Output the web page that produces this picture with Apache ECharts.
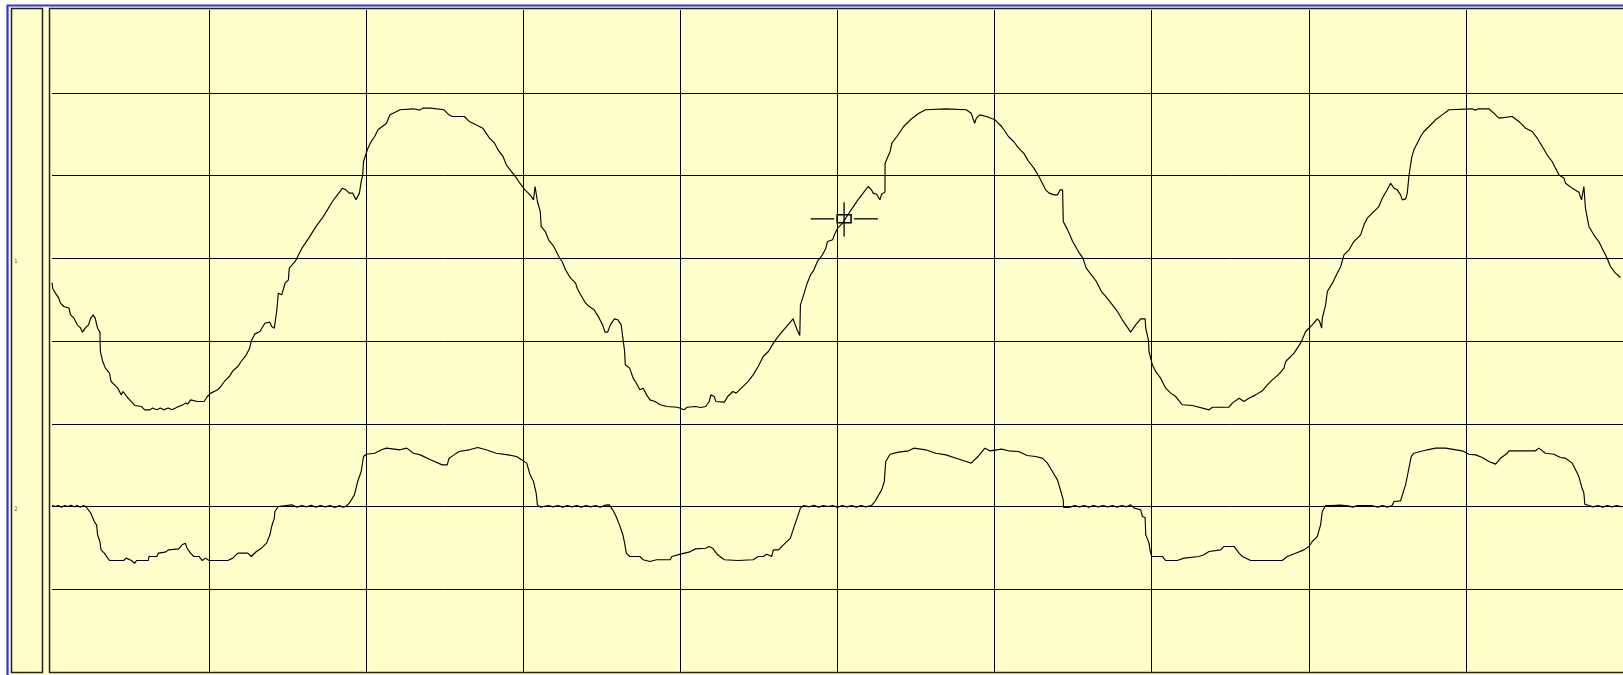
<!DOCTYPE html>
<html><head><meta charset="utf-8">
<script src="https://cdn.jsdelivr.net/npm/echarts@6/dist/echarts.min.js"></script>
<style>html,body{margin:0;padding:0;background:#fff;}#c{width:1623px;height:675px;}</style>
</head><body><div id="c"></div>
<script>
// channel labels and the value each channel is centred on
const channelLabels = ['1', '2'];
const channelCenters = [5, 2];

// trace 1 (x in divisions, y in divisions)
const trace1a = [[0,4.707],[0.004,4.638],[0.022,4.578],[0.043,4.518],[0.054,4.457],[0.075,4.417],[0.108,4.397],[0.118,4.316],[0.140,4.276],[0.161,4.195],[0.183,4.155],[0.194,4.107],[0.211,4.155],[0.232,4.195],[0.247,4.276],[0.262,4.316],[0.275,4.276],[0.290,4.155],[0.305,4.107],[0.308,3.873],[0.323,3.752],[0.340,3.672],[0.366,3.611],[0.376,3.511],[0.398,3.470],[0.419,3.430],[0.441,3.349],[0.452,3.390],[0.484,3.309],[0.527,3.221],[0.570,3.208],[0.590,3.168],[0.600,3.190],[0.624,3.168],[0.640,3.190],[0.667,3.170],[0.690,3.190],[0.710,3.168],[0.740,3.190],[0.763,3.168],[0.806,3.208],[0.830,3.225],[0.849,3.249],[0.865,3.240],[0.882,3.289],[0.925,3.269],[0.968,3.269],[0.989,3.329],[1.011,3.370],[1.054,3.410],[1.075,3.450],[1.097,3.511],[1.129,3.571],[1.151,3.639],[1.183,3.692],[1.204,3.752],[1.237,3.833],[1.258,3.913],[1.269,4.002],[1.290,4.083],[1.323,4.115],[1.355,4.215],[1.387,4.228],[1.398,4.175],[1.415,4.155],[1.430,4.356],[1.441,4.578],[1.462,4.558],[1.484,4.699],[1.505,4.739],[1.510,4.880],[1.548,4.961],[1.570,5.041],[1.591,5.122],[1.613,5.182],[1.634,5.243],[1.667,5.343],[1.688,5.404],[1.720,5.484],[1.753,5.585],[1.785,5.686],[1.817,5.766],[1.849,5.847],[1.871,5.827],[1.892,5.787],[1.914,5.787],[1.935,5.706],[1.957,5.787],[1.968,5.927],[1.978,6.008],[1.983,6.169],[2.011,6.330],[2.032,6.411],[2.054,6.471],[2.075,6.552],[2.129,6.632],[2.151,6.733],[2.172,6.753],[2.215,6.794],[2.301,6.806],[2.340,6.790],[2.360,6.814],[2.409,6.814],[2.495,6.794],[2.527,6.733],[2.548,6.713],[2.624,6.713],[2.656,6.653],[2.699,6.612],[2.742,6.572],[2.763,6.512],[2.785,6.451],[2.817,6.391],[2.839,6.310],[2.871,6.230],[2.892,6.129],[2.925,6.048],[2.957,5.968],[2.978,5.907],[3.011,5.827],[3.043,5.766],[3.065,5.706],[3.075,5.867],[3.086,5.847],[3.090,5.686],[3.108,5.565],[3.114,5.384],[3.140,5.323],[3.161,5.223],[3.194,5.142],[3.226,5.021],[3.247,4.961],[3.269,4.860],[3.301,4.759],[3.333,4.699]];
const trace1b = [[3.343,4.638],[3.365,4.558],[3.397,4.457],[3.419,4.417],[3.451,4.377],[3.483,4.276],[3.505,4.195],[3.520,4.107],[3.537,4.107],[3.554,4.195],[3.580,4.268],[3.602,4.256],[3.623,4.195],[3.634,4.034],[3.645,3.873],[3.649,3.712],[3.677,3.672],[3.699,3.551],[3.720,3.490],[3.742,3.410],[3.763,3.430],[3.785,3.349],[3.806,3.289],[3.839,3.269],[3.871,3.229],[3.914,3.208],[3.978,3.200],[4.000,3.188],[4.022,3.168],[4.043,3.200],[4.097,3.208],[4.129,3.196],[4.161,3.208],[4.183,3.269],[4.194,3.349],[4.215,3.329],[4.226,3.269],[4.280,3.261],[4.301,3.329],[4.334,3.390],[4.355,3.370],[4.388,3.430],[4.431,3.511],[4.463,3.591],[4.495,3.692],[4.527,3.813],[4.560,3.873],[4.592,3.974],[4.614,4.034],[4.657,4.135],[4.689,4.203],[4.717,4.268],[4.743,4.135],[4.760,4.066],[4.764,4.437],[4.786,4.566],[4.807,4.699],[4.829,4.800],[4.850,4.860],[4.872,4.961],[4.904,5.041],[4.926,5.122],[4.936,5.202],[4.969,5.223],[4.980,5.283],[5.001,5.364],[5.033,5.424],[5.066,5.525],[5.087,5.585],[5.130,5.706],[5.163,5.787],[5.195,5.867],[5.216,5.827],[5.227,5.787],[5.249,5.774],[5.270,5.706],[5.281,5.774],[5.302,5.799],[5.303,6.149],[5.335,6.290],[5.346,6.391],[5.378,6.471],[5.421,6.592],[5.464,6.673],[5.518,6.753],[5.561,6.794],[5.690,6.806],[5.819,6.794],[5.851,6.753],[5.873,6.632],[5.884,6.693],[5.905,6.733],[5.948,6.713],[6.002,6.673],[6.045,6.592],[6.088,6.471],[6.121,6.411],[6.153,6.330],[6.185,6.270],[6.217,6.169],[6.250,6.089],[6.282,5.988],[6.304,5.907],[6.325,5.827],[6.347,5.787],[6.379,5.766],[6.400,5.766],[6.418,5.827],[6.433,5.827],[6.437,5.444],[6.465,5.343],[6.497,5.202],[6.540,5.061],[6.562,5.001],[6.583,4.880],[6.616,4.800],[6.648,4.719],[6.680,4.598]];
const trace1c = [[6.707,4.538],[6.750,4.437],[6.782,4.356],[6.813,4.256],[6.835,4.195],[6.866,4.107],[6.898,4.195],[6.930,4.268],[6.958,4.268],[6.962,4.155],[6.979,4.014],[6.983,3.873],[7.004,3.712],[7.025,3.632],[7.057,3.551],[7.089,3.430],[7.121,3.370],[7.153,3.329],[7.195,3.229],[7.259,3.221],[7.365,3.168],[7.386,3.200],[7.492,3.200],[7.513,3.249],[7.556,3.309],[7.587,3.269],[7.619,3.309],[7.662,3.349],[7.704,3.398],[7.736,3.470],[7.768,3.530],[7.810,3.599],[7.842,3.672],[7.853,3.752],[7.906,3.853],[7.948,3.974],[7.980,4.115],[8.022,4.195],[8.054,4.268],[8.069,4.236],[8.082,4.155],[8.086,4.276],[8.107,4.437],[8.118,4.598],[8.150,4.699],[8.181,4.820],[8.203,4.900],[8.224,5.041],[8.256,5.102],[8.287,5.202],[8.330,5.283],[8.351,5.404],[8.372,5.484],[8.404,5.545],[8.446,5.625],[8.468,5.726],[8.499,5.827],[8.521,5.907],[8.542,5.847],[8.563,5.827],[8.584,5.766],[8.595,5.706],[8.616,5.718],[8.627,5.787],[8.637,5.988],[8.654,6.209],[8.669,6.310],[8.690,6.391],[8.712,6.471],[8.733,6.532],[8.765,6.592],[8.807,6.673],[8.849,6.733],[8.892,6.794],[9.040,6.806],[9.060,6.790],[9.080,6.806],[9.146,6.806],[9.178,6.753],[9.210,6.693],[9.295,6.713],[9.337,6.653],[9.380,6.572],[9.422,6.532],[9.454,6.451],[9.486,6.350],[9.517,6.250],[9.549,6.169],[9.570,6.089],[9.592,6.008],[9.624,5.968],[9.634,5.907],[9.677,5.847],[9.719,5.799],[9.736,5.706],[9.751,5.867],[9.757,5.867],[9.761,5.605],[9.783,5.384],[9.814,5.283],[9.846,5.202],[9.867,5.122],[9.899,5.001],[9.920,4.900],[9.952,4.820],[9.984,4.767]];

// trace 2
const trace2a = [[0,2.012],[0.02,2.0],[0.04,2.012],[0.06,1.992],[0.08,2.012],[0.10,2.0],[0.12,2.016],[0.14,1.996],[0.16,2.012],[0.18,1.992],[0.20,2.012],[0.215,2.0],[0.247,1.919],[0.269,1.819],[0.284,1.778],[0.290,1.658],[0.305,1.577],[0.312,1.476],[0.333,1.436],[0.355,1.376],[0.366,1.347],[0.456,1.347],[0.473,1.376],[0.505,1.347],[0.527,1.315],[0.538,1.347],[0.613,1.347],[0.617,1.396],[0.667,1.396],[0.677,1.436],[0.720,1.448],[0.742,1.476],[0.806,1.488],[0.828,1.537],[0.849,1.557],[0.860,1.496],[0.882,1.436],[0.903,1.396],[0.935,1.396],[0.957,1.347],[0.978,1.376],[1.0,1.347],[1.118,1.347],[1.151,1.376],[1.183,1.436],[1.247,1.436],[1.269,1.396],[1.301,1.456],[1.333,1.496],[1.366,1.557],[1.387,1.658],[1.398,1.758],[1.415,1.859],[1.419,1.940],[1.441,2.0],[1.527,2.020],[1.56,1.992],[1.59,2.012],[1.62,1.996],[1.65,2.016],[1.68,1.992],[1.71,2.012],[1.74,1.996],[1.77,2.012],[1.80,1.988],[1.83,2.012],[1.85,1.992],[1.871,2.0],[1.892,2.040],[1.925,2.141],[1.946,2.302],[1.968,2.423],[1.983,2.604],[2.0,2.632],[2.054,2.644],[2.097,2.685],[2.129,2.705],[2.215,2.685],[2.258,2.705],[2.301,2.644],[2.344,2.624],[2.409,2.564],[2.484,2.503],[2.516,2.503],[2.527,2.584],[2.559,2.624],[2.591,2.665],[2.656,2.685],[2.710,2.713],[2.763,2.685],[2.828,2.644],[2.903,2.624],[2.957,2.604],[2.989,2.564],[3.022,2.524],[3.043,2.383],[3.065,2.302],[3.082,2.161],[3.090,2.020],[3.108,1.992],[3.161,2.012],[3.19,1.996],[3.22,2.012],[3.25,1.992],[3.28,2.012],[3.31,1.996]];
const trace2b = [[3.34,2.012],[3.37,1.992],[3.40,2.012],[3.43,1.996],[3.46,2.012],[3.49,1.992],[3.52,2.016],[3.548,2.020],[3.569,1.960],[3.591,1.879],[3.612,1.778],[3.634,1.658],[3.645,1.557],[3.656,1.436],[3.677,1.396],[3.742,1.396],[3.763,1.356],[3.806,1.335],[3.849,1.356],[3.935,1.356],[3.946,1.396],[4.0,1.424],[4.054,1.448],[4.097,1.488],[4.161,1.496],[4.183,1.517],[4.205,1.496],[4.237,1.416],[4.280,1.356],[4.366,1.347],[4.463,1.356],[4.495,1.396],[4.527,1.396],[4.549,1.424],[4.581,1.396],[4.592,1.476],[4.624,1.476],[4.667,1.557],[4.700,1.617],[4.721,1.738],[4.743,1.859],[4.764,1.980],[4.786,2.012],[4.82,1.996],[4.85,2.016],[4.88,1.992],[4.91,2.012],[4.94,2.0],[4.97,2.012],[5.0,1.988],[5.03,2.012],[5.06,1.996],[5.09,2.012],[5.12,1.992],[5.15,2.012],[5.18,1.996],[5.216,2.012],[5.238,2.060],[5.281,2.201],[5.298,2.302],[5.307,2.544],[5.335,2.632],[5.389,2.657],[5.453,2.673],[5.486,2.705],[5.561,2.685],[5.626,2.644],[5.690,2.624],[5.755,2.584],[5.819,2.544],[5.851,2.524],[5.894,2.604],[5.938,2.705],[5.970,2.673],[6.045,2.693],[6.088,2.673],[6.153,2.665],[6.207,2.616],[6.260,2.604],[6.304,2.584],[6.336,2.524],[6.368,2.423],[6.400,2.322],[6.422,2.181],[6.437,2.081],[6.439,1.988],[6.476,1.988],[6.508,2.012],[6.54,1.996],[6.57,2.012],[6.60,1.992],[6.63,2.012],[6.66,1.996]];
const trace2c = [[6.69,2.012],[6.72,1.996],[6.75,2.012],[6.78,1.992],[6.81,2.012],[6.84,1.996],[6.866,2.020],[6.888,1.980],[6.930,1.960],[6.941,1.879],[6.958,1.867],[6.962,1.658],[6.983,1.557],[6.989,1.476],[7.0,1.396],[7.068,1.396],[7.089,1.347],[7.163,1.347],[7.206,1.376],[7.301,1.396],[7.333,1.416],[7.365,1.456],[7.439,1.476],[7.460,1.517],[7.524,1.517],[7.556,1.436],[7.577,1.396],[7.630,1.347],[7.831,1.347],[7.863,1.396],[7.916,1.436],[7.969,1.476],[8.001,1.517],[8.022,1.577],[8.054,1.637],[8.075,1.778],[8.086,1.940],[8.107,2.012],[8.14,2.012],[8.20,2.016],[8.25,2.008],[8.28,1.992],[8.31,2.012],[8.35,2.012],[8.40,2.012],[8.44,1.992],[8.47,2.012],[8.50,1.992],[8.531,2.012],[8.542,2.060],[8.584,2.068],[8.599,2.161],[8.616,2.262],[8.633,2.423],[8.652,2.604],[8.669,2.644],[8.712,2.665],[8.754,2.685],[8.807,2.705],[8.871,2.705],[8.977,2.673],[9.019,2.632],[9.062,2.624],[9.104,2.592],[9.146,2.544],[9.189,2.512],[9.221,2.584],[9.263,2.644],[9.274,2.673],[9.443,2.673],[9.464,2.705],[9.507,2.644],[9.560,2.632],[9.602,2.592],[9.634,2.584],[9.677,2.524],[9.698,2.443],[9.719,2.362],[9.736,2.242],[9.751,2.161],[9.757,2.028],[9.783,2.012],[9.81,1.996],[9.84,2.012],[9.87,1.992],[9.90,2.012],[9.93,1.996],[9.96,2.012],[9.99,1.996]];

// cursor (crosshair) position and arm extents, in divisions
const cursorPos = [5.042, 5.476];
const cursorSpanX = [4.829, 5.257];
const cursorSpanY = [5.263, 5.678];

const trace1 = trace1a.concat(trace1b, trace1c);
const trace2 = trace2a.concat(trace2b, trace2c);

const chart = echarts.init(document.getElementById('c'), null, {renderer: 'canvas'});
const lineStyle = {color: '#000', width: 1.15};
chart.setOption({
  animation: false,
  backgroundColor: '#ffffff',
  graphic: [
    {type: 'rect', z: -10, shape: {x: 7.5, y: 5.5, width: 1640, height: 690}, style: {fill: '#FFFFCC', stroke: '#3636CC', lineWidth: 2.2}},
    {type: 'rect', z: -9, shape: {x: 11.5, y: 8.5, width: 31, height: 664}, style: {fill: '#FFFFCC', stroke: '#222', lineWidth: 1.5}},
    {type: 'rect', z: -9, shape: {x: 49.5, y: 8.5, width: 1620, height: 664}, style: {fill: '#FFFFCC', stroke: '#222', lineWidth: 1.5}}
  ],
  grid: {left: 52, top: 10, width: 1572, height: 662, show: false},
  xAxis: {
    type: 'value', min: 0, max: 10, interval: 1,
    axisLine: {show: false}, axisTick: {show: false}, axisLabel: {show: false},
    splitLine: {show: true, showMinLine: false, showMaxLine: false, lineStyle: {color: '#000', width: 1}}
  },
  yAxis: {
    type: 'value', min: 0, max: 8, interval: 1,
    axisLine: {show: false}, axisTick: {show: false},
    axisLabel: {
      show: true, margin: 36, align: 'center', verticalAlign: 'top', fontSize: 6, color: '#555',
      fontFamily: 'DejaVu Sans',
      formatter: function (v) { const i = channelCenters.indexOf(v); return i >= 0 ? channelLabels[i] : ''; }
    },
    splitLine: {show: true, showMinLine: false, showMaxLine: false, lineStyle: {color: '#000', width: 1}}
  },
  series: [
    {type: 'line', data: trace1, showSymbol: false, symbol: 'none', lineStyle: lineStyle, silent: true, z: 3},
    {type: 'line', data: trace2, showSymbol: false, symbol: 'none', lineStyle: lineStyle, silent: true, z: 3},
    {
      type: 'custom', data: [cursorPos], silent: true, z: 5,
      renderItem: function (params, api) {
        const c = api.coord([api.value(0), api.value(1)]);
        const l = api.coord([cursorSpanX[0], cursorPos[1]]);
        const r = api.coord([cursorSpanX[1], cursorPos[1]]);
        const t = api.coord([cursorPos[0], cursorSpanY[1]]);
        const b = api.coord([cursorPos[0], cursorSpanY[0]]);
        const hw = 7, hh = 4, gap = 3;
        const st = {stroke: '#000', lineWidth: 1.3, fill: null};
        return {type: 'group', children: [
          {type: 'line', shape: {x1: l[0], y1: c[1], x2: c[0] - hw - gap, y2: c[1]}, style: st},
          {type: 'line', shape: {x1: c[0] + hw + gap, y1: c[1], x2: r[0], y2: c[1]}, style: st},
          {type: 'line', shape: {x1: c[0], y1: t[1], x2: c[0], y2: b[1]}, style: st},
          {type: 'rect', shape: {x: c[0] - hw, y: c[1] - hh, width: 2 * hw, height: 2 * hh}, style: {stroke: '#000', lineWidth: 1.5, fill: 'none'}}
        ]};
      }
    }
  ]
});
</script>
</body></html>
